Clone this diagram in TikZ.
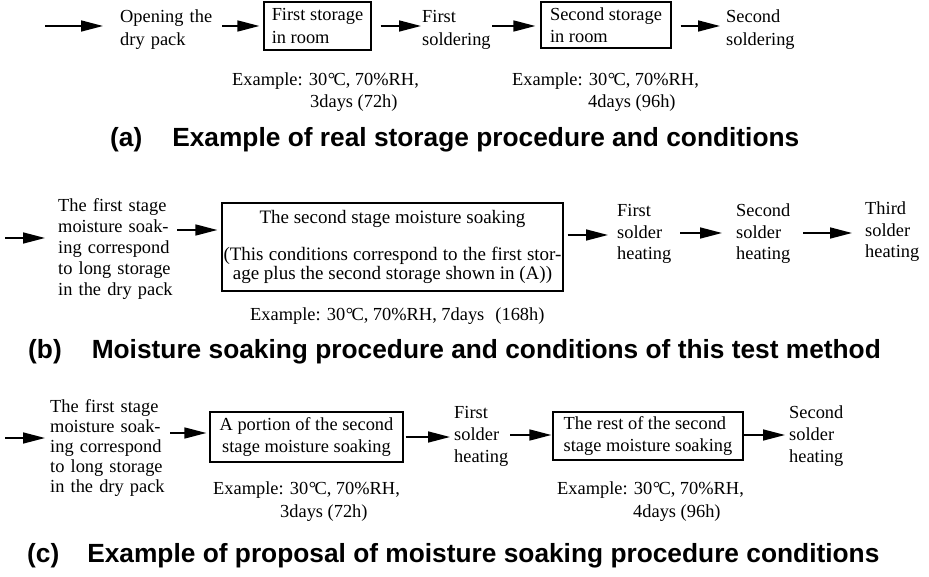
\documentclass[tikz,border=0pt]{standalone}
\usepackage{fontspec}
\setmainfont{Liberation Serif}
\setsansfont{Liberation Sans}
\usetikzlibrary{arrows.meta}
\newcommand{\degc}{\kern0.04em\textdegree\kern-0.1em C}
\newcommand{\bodysize}{\fontsize{18.4}{22.5}\selectfont}
\newcommand{\capsize}{\fontsize{26.3}{30}\selectfont\sffamily\bfseries}

\begin{document}
\begin{tikzpicture}[x=1pt,y=-1pt,
  txt/.style={anchor=base west,inner sep=0pt,align=left,font=\bodysize},
  box/.style={draw,line width=1.3pt,inner sep=0pt,font=\bodysize},
  flow/.style={line width=1.6pt,-{Triangle[length=22pt,width=11pt]}},
  caption/.style={anchor=base west,inner sep=0pt,font=\capsize}]
  \useasboundingbox (0,0) rectangle (929,577);

  \coordinate (rowa) at (0,26);
  \coordinate (in1) at (45,26);
  \node[txt,text width=100pt] (open1) at (120,23) {Opening the\\dry pack};
  \node[box,minimum width=107pt,minimum height=48pt,align=left] (store1) at (317.5,26) {First storage\\in room};
  \node[txt,text width=70pt] (solder1) at (422,23) {First\\soldering};
  \node[box,minimum width=130pt,minimum height=46pt,align=left] (store2) at (606,25) {Second storage\\in room};
  \node[txt,text width=80pt] (solder2) at (726,23) {Second\\soldering};
  \node[txt] (exa1) at (232,108) {Example: 30\degc, 70\%RH,\\\hspace*{78pt}3days (72h)};
  \node[txt] (exa2) at (512,108) {Example: 30\degc, 70\%RH,\\\hspace*{76pt}4days (96h)};
  \node[caption] (capa) at (110,147) {(a)\hspace{30pt}Example of real storage procedure and conditions};
  \draw[flow] (in1) -- ([xshift=-17pt]in1 -| open1.west);
  \draw[flow] ([xshift=2pt]open1.east |- rowa) -- ([xshift=-4pt]store1.west |- rowa);
  \draw[flow] ([xshift=9pt]store1.east |- rowa) -- ([xshift=-1pt]solder1.west |- rowa);
  \draw[flow] (solder1.east |- rowa) -- ([xshift=-5pt]store2.west |- rowa);
  \draw[flow] ([xshift=9pt]store2.east |- rowa) -- ([xshift=-6pt]solder2.west |- rowa);

  \coordinate (rowb) at (0,233);
  \coordinate (in2) at (5,238);
  \node[txt,text width=116pt,font=\fontsize{18.4}{21}\selectfont] (first2) at (58,212) {The first stage\\moisture soak-\\ing correspond\\to long storage\\in the dry pack};
  \node[box,minimum width=341pt,minimum height=88pt,align=center,font=\fontsize{19}{19.5}\selectfont] (soak2) at (392.5,247) {The second stage moisture soaking\\[17pt]\makebox[338pt][s]{(This conditions correspond to the first stor-}\\age plus the second storage shown in (A))};
  \node[txt] (exb) at (250,320) {Example: 30\degc, 70\%RH, 7days\hspace{0.6em}(168h)};
  \node[txt,text width=56pt,font=\fontsize{18.4}{21.5}\selectfont] (heat1) at (617,217) {First\\solder\\heating};
  \node[txt,text width=56pt,font=\fontsize{18.4}{21.5}\selectfont] (heat2) at (736,217) {Second\\solder\\heating};
  \node[txt,text width=58pt,font=\fontsize{18.4}{21.5}\selectfont] (heat3) at (865,215) {Third\\solder\\heating};
  \node[caption] (capb) at (28,358) {(b)\hspace{30pt}Moisture soaking procedure and conditions of this test method};
  \draw[flow] (in2) -- ([xshift=-13pt]in2 -| first2.west);
  \draw[flow] ([xshift=3pt,yshift=3pt]first2.east |- rowb) -- ([xshift=-4pt,yshift=3pt]soak2.west |- rowb);
  \draw[flow] ([xshift=4pt,yshift=-2pt]soak2.east |- rowb) -- ([xshift=-9pt,yshift=-2pt]heat1.west |- rowb);
  \draw[flow] ([xshift=7pt]heat1.east |- rowb) -- ([xshift=-14pt]heat2.west |- rowb);
  \draw[flow] ([xshift=11pt]heat2.east |- rowb) -- ([xshift=-13pt]heat3.west |- rowb);

  \coordinate (rowc) at (0,435);
  \coordinate (in3) at (5,438);
  \node[txt,text width=116pt,font=\fontsize{18.4}{20}\selectfont] (first3) at (50,412) {The first stage\\moisture soak-\\ing correspond\\to long storage\\in the dry pack};
  \node[box,minimum width=193pt,minimum height=50pt,align=center,font=\fontsize{18.4}{22}\selectfont] (part3) at (306.5,437) {A portion of the second\\stage moisture soaking};
  \node[txt,text width=50pt,font=\fontsize{18.4}{22}\selectfont] (heat4) at (454,418) {First\\solder\\heating};
  \node[box,minimum width=190pt,minimum height=48pt,align=left,font=\fontsize{18.4}{22}\selectfont] (rest3) at (648,436) {The rest of the second\\stage moisture soaking};
  \node[txt,text width=56pt,font=\fontsize{18.4}{22}\selectfont] (heat5) at (789,418) {Second\\solder\\heating};
  \node[txt,font=\fontsize{18.4}{23}\selectfont] (exc1) at (213,517) {Example: 30\degc, 70\%RH,\\\hspace*{67pt}3days (72h)};
  \node[txt,font=\fontsize{18.4}{23}\selectfont] (exc2) at (557,517) {Example: 30\degc, 70\%RH,\\\hspace*{76pt}4days (96h)};
  \node[caption] (capc) at (27,562) {(c)\hspace{28pt}Example of proposal of moisture soaking procedure conditions};
  \draw[flow] (in3) -- ([xshift=-5pt]in3 -| first3.west);
  \draw[flow] ([xshift=4pt,yshift=2pt]first3.east |- rowc) -- ([xshift=-3pt,yshift=2pt]part3.west |- rowc);
  \draw[flow] ([xshift=2pt,yshift=-2pt]part3.east |- rowc) -- ([xshift=-4pt,yshift=-2pt]heat4.west |- rowc);
  \draw[flow] ([xshift=6pt]heat4.east |- rowc) -- ([xshift=-1pt]rest3.west |- rowc);
  \draw[flow] (rest3.east |- rowc) -- ([xshift=-4pt]heat5.west |- rowc);
\end{tikzpicture}
\end{document}
